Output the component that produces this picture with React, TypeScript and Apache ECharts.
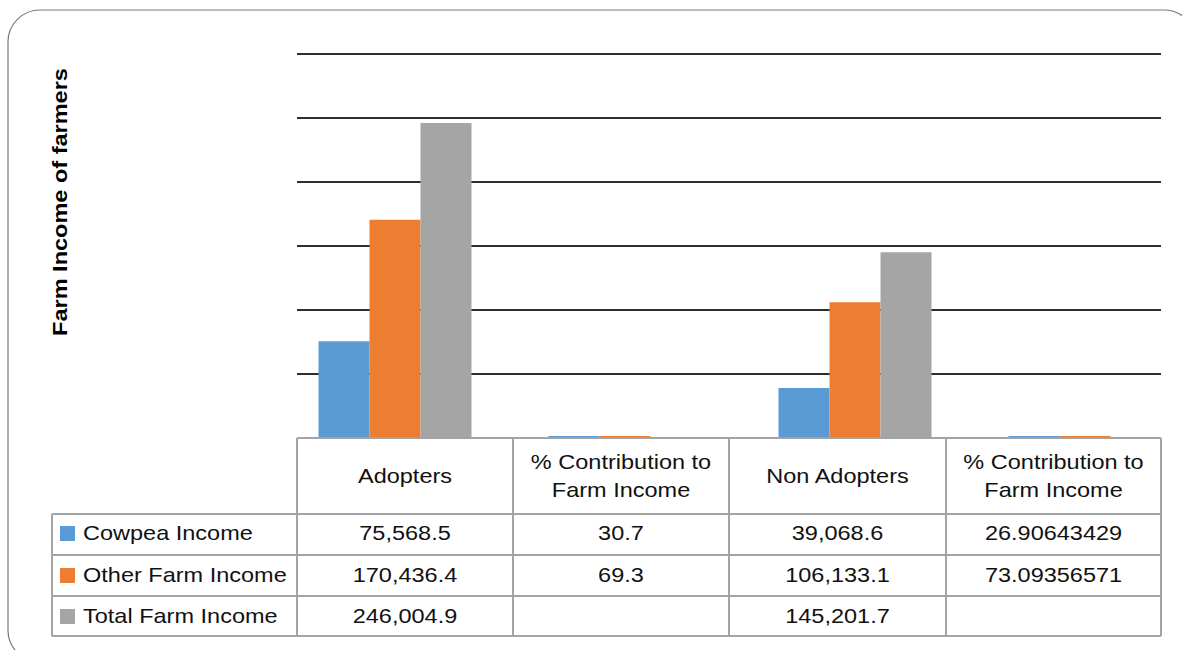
import React, { useEffect, useRef } from "react";
import * as echarts from "echarts";

// Column groups (first row of the data table)
const categories = [
  "Adopters",
  "% Contribution to\nFarm Income",
  "Non Adopters",
  "% Contribution to\nFarm Income",
];
const seriesNames = ["Cowpea Income", "Other Farm Income", "Total Farm Income"];
const cowpeaIncome = [75568.5, 30.7, 39068.6, 26.90643429];
const otherFarmIncome = [170436.4, 69.3, 106133.1, 73.09356571];
const totalFarmIncome: (number | null)[] = [246004.9, null, 145201.7, null];
const yTicks = { min: 0, max: 300000, interval: 50000 };

const colors = ["#5B9BD5", "#ED7D31", "#A5A5A5"];
const FONT = "'Liberation Sans', Arial, sans-serif";

// canvas is slightly wider than the visible page so the bar grid can run past the edge
const CANVAS_W = 1220;

function fmt(v: number | null): string {
  if (v === null || v === undefined) return "";
  if (Math.abs(v) >= 1000)
    return v.toLocaleString("en-US", { minimumFractionDigits: 1, maximumFractionDigits: 1 });
  return String(v);
}

export default function App() {
  const ref = useRef<HTMLDivElement>(null);

  useEffect(() => {
    if (!ref.current) return;
    const chart = echarts.init(ref.current, null, { renderer: "svg" });

    // table geometry
    const colX = [297, 513, 729, 946, 1161];
    const legendLeft = 52;
    const headerTop = 438;
    const rowY = [514, 555, 596, 636];
    const gridColor = "#A3A3A3";
    const textScale = 1.12;
    const fs = 21;

    const g: any[] = [];
    const line = (x1: number, y1: number, x2: number, y2: number) =>
      g.push({
        type: "line",
        z: 50,
        shape: { x1, y1, x2, y2 },
        style: { stroke: gridColor, lineWidth: 2 },
      });
    const txt = (x: number, y: number, text: string, align = "center") =>
      g.push({
        type: "text",
        z: 60,
        x,
        y,
        scaleX: textScale,
        style: {
          text,
          fill: "#111",
          font: `${fs}px ${FONT}`,
          textAlign: align,
          textVerticalAlign: "middle",
          lineHeight: 28,
        },
      });

    // outer rounded frame
    g.push({
      type: "rect",
      z: 1,
      shape: { x: 8, y: 10, width: 1188, height: 652, r: 32 },
      style: { fill: "none", stroke: "#7a7a7a", lineWidth: 1.2 },
    });

    // y-axis title
    g.push({
      type: "text",
      z: 60,
      x: 60,
      y: 202,
      rotation: Math.PI / 2,
      scaleX: textScale,
      style: {
        text: "Farm Income of farmers",
        fill: "#000",
        font: `bold 21px ${FONT}`,
        textAlign: "center",
        textVerticalAlign: "middle",
      },
    });

    // table rules
    line(colX[0], headerTop, colX[4], headerTop);
    rowY.forEach((y) => line(legendLeft, y, colX[4], y));
    colX.forEach((x) => line(x, headerTop, x, rowY[3]));
    line(legendLeft, rowY[0], legendLeft, rowY[3]);

    // header cells
    categories.forEach((c, i) => {
      const cx = (colX[i] + colX[i + 1]) / 2;
      txt(cx, 476, c);
    });

    // body rows
    const rows = [cowpeaIncome, otherFarmIncome, totalFarmIncome];
    const rowCenters = [533, 575, 616];
    rows.forEach((vals, r) => {
      const cy = rowCenters[r];
      g.push({
        type: "rect",
        z: 60,
        shape: { x: 60, y: cy - 7, width: 15, height: 15 },
        style: { fill: colors[r] },
      });
      txt(83, cy, seriesNames[r], "left");
      vals.forEach((v, i) => {
        const cx = (colX[i] + colX[i + 1]) / 2;
        txt(cx, cy, fmt(v));
      });
    });

    const barSeries = [cowpeaIncome, otherFarmIncome, totalFarmIncome].map((d, i) => ({
      type: "bar",
      name: seriesNames[i],
      xAxisIndex: 1,
      yAxisIndex: 1,
      data: d,
      barWidth: 51,
      barGap: "0%",
      barMinHeight: 2,
      itemStyle: { color: colors[i] },
    }));

    chart.setOption({
      animation: false,
      backgroundColor: "#ffffff",
      grid: [
        { left: 297, right: CANVAS_W - 1161, top: 54, bottom: 212 },
        { left: 280, right: CANVAS_W - 1200, top: 54, bottom: 212 },
      ],
      xAxis: [
        {
          type: "category",
          gridIndex: 0,
          data: categories,
          axisLine: { show: false },
          axisTick: { show: false },
          axisLabel: { show: false },
        },
        {
          type: "category",
          gridIndex: 1,
          data: categories,
          axisLine: { show: false },
          axisTick: { show: false },
          axisLabel: { show: false },
        },
      ],
      yAxis: [
        {
          type: "value",
          gridIndex: 0,
          ...yTicks,
          axisLine: { show: false },
          axisTick: { show: false },
          axisLabel: { show: false },
          splitLine: { show: true, lineStyle: { color: "#2e2e2e", width: 2 } },
        },
        {
          type: "value",
          gridIndex: 1,
          ...yTicks,
          axisLine: { show: false },
          axisTick: { show: false },
          axisLabel: { show: false },
          splitLine: { show: false },
        },
      ],
      series: [
        // carries the gridlines' axis
        { type: "bar", xAxisIndex: 0, yAxisIndex: 0, data: [], silent: true },
        ...barSeries,
      ],
      graphic: g,
    });

    return () => chart.dispose();
  }, []);

  return (
    <div
      style={{
        position: "fixed",
        left: 0,
        top: 0,
        width: 1182,
        height: 650,
        overflow: "hidden",
        background: "#fff",
      }}
    >
      <div ref={ref} style={{ width: CANVAS_W, height: 650 }} />
    </div>
  );
}
